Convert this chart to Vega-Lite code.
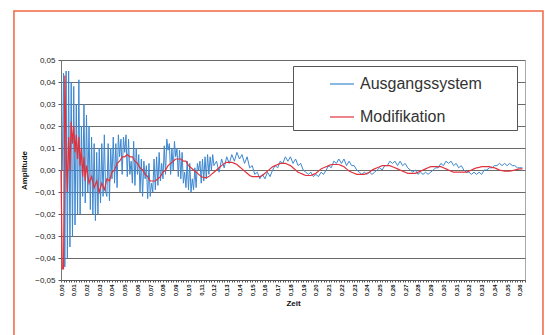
{
  "$schema": "https://vega.github.io/schema/vega-lite/v6.json",
  "autosize": "none",
  "width": 464,
  "height": 220,
  "padding": {"left": 61, "top": 60, "right": 23, "bottom": 55},
  "background": "white",
  "config": {
    "view": {"stroke": "#a8a8a8", "strokeWidth": 1},
    "font": "Liberation Sans"
  },
  "datasets": {
    "blue": [
      {"t":0,"a":0},{"t":0.001,"a":0},{"t":0.002,"a":0.044},{"t":0.003,"a":-0.044},{"t":0.004,"a":0.045},{"t":0.005,"a":-0.04},{"t":0.006,"a":0.045},{"t":0.007,"a":-0.035},{"t":0.008,"a":0.04},{"t":0.009,"a":-0.03},
      {"t":0.010,"a":0.038},{"t":0.011,"a":-0.025},{"t":0.012,"a":0.03},{"t":0.013,"a":-0.02},{"t":0.014,"a":0.041},{"t":0.015,"a":-0.02},{"t":0.016,"a":0.02},{"t":0.017,"a":-0.012},{"t":0.018,"a":0.03},{"t":0.019,"a":-0.015},
      {"t":0.020,"a":0.025},{"t":0.021,"a":-0.01},{"t":0.022,"a":0.02},{"t":0.023,"a":-0.018},{"t":0.024,"a":0.015},{"t":0.025,"a":-0.02},{"t":0.026,"a":0.012},{"t":0.027,"a":-0.023},{"t":0.028,"a":0.008},{"t":0.029,"a":-0.02},
      {"t":0.030,"a":0.01},{"t":0.031,"a":-0.015},{"t":0.032,"a":0.012},{"t":0.033,"a":-0.012},{"t":0.034,"a":0.016},{"t":0.035,"a":-0.01},{"t":0.036,"a":-0.012},{"t":0.037,"a":0.012},{"t":0.038,"a":-0.014},{"t":0.039,"a":0.010},
      {"t":0.040,"a":-0.004},{"t":0.041,"a":0.015},{"t":0.042,"a":-0.006},{"t":0.043,"a":0.012},{"t":0.044,"a":-0.008},{"t":0.045,"a":0.016},{"t":0.046,"a":0.006},{"t":0.047,"a":0.014},{"t":0.048,"a":-0.002},{"t":0.049,"a":0.015},
      {"t":0.050,"a":0.008},{"t":0.051,"a":0.016},{"t":0.052,"a":-0.003},{"t":0.053,"a":0.014},{"t":0.054,"a":-0.002},{"t":0.055,"a":0.004},{"t":0.056,"a":-0.006},{"t":0.057,"a":0.013},{"t":0.058,"a":-0.007},{"t":0.059,"a":0.010},
      {"t":0.060,"a":-0.002},{"t":0.061,"a":0.007},{"t":0.062,"a":-0.010},{"t":0.063,"a":0.005},{"t":0.064,"a":-0.012},{"t":0.065,"a":0.004},{"t":0.066,"a":-0.004},{"t":0.067,"a":0.002},{"t":0.068,"a":-0.013},{"t":0.069,"a":0.003},
      {"t":0.070,"a":-0.012},{"t":0.071,"a":-0.006},{"t":0.072,"a":-0.010},{"t":0.073,"a":0.005},{"t":0.074,"a":-0.009},{"t":0.075,"a":0.006},{"t":0.076,"a":-0.007},{"t":0.077,"a":0.008},{"t":0.078,"a":-0.005},{"t":0.079,"a":0.003},
      {"t":0.080,"a":-0.004},{"t":0.081,"a":0.011},{"t":0.082,"a":-0.002},{"t":0.083,"a":0.014},{"t":0.084,"a":0.009},{"t":0.085,"a":0.012},{"t":0.086,"a":-0.002},{"t":0.087,"a":0.010},{"t":0.088,"a":0.000},{"t":0.089,"a":0.013},
      {"t":0.090,"a":0.006},{"t":0.091,"a":0.010},{"t":0.092,"a":-0.003},{"t":0.093,"a":0.009},{"t":0.094,"a":-0.004},{"t":0.095,"a":0.008},{"t":0.096,"a":-0.006},{"t":0.097,"a":-0.001},{"t":0.098,"a":-0.008},{"t":0.099,"a":0.004},
      {"t":0.100,"a":-0.009},{"t":0.101,"a":0.003},{"t":0.102,"a":-0.010},{"t":0.103,"a":-0.004},{"t":0.104,"a":-0.009},{"t":0.105,"a":0.001},{"t":0.106,"a":-0.008},{"t":0.107,"a":0.003},{"t":0.108,"a":0.000},{"t":0.109,"a":0.004},
      {"t":0.110,"a":-0.006},{"t":0.111,"a":0.005},{"t":0.112,"a":-0.005},{"t":0.113,"a":0.006},{"t":0.114,"a":-0.004},{"t":0.115,"a":0.007},{"t":0.116,"a":-0.002},{"t":0.117,"a":0.006},{"t":0.118,"a":0.000},{"t":0.119,"a":0.007},
      {"t":0.120,"a":0.002},{"t":0.122,"a":0.004},{"t":0.124,"a":-0.001},{"t":0.126,"a":0.005},{"t":0.128,"a":0.001},{"t":0.130,"a":0.006},{"t":0.132,"a":0.003},{"t":0.134,"a":0.007},{"t":0.136,"a":0.004},{"t":0.138,"a":0.008},
      {"t":0.140,"a":0.005},{"t":0.142,"a":0.007},{"t":0.144,"a":0.003},{"t":0.146,"a":0.006},{"t":0.148,"a":0.001},{"t":0.150,"a":0.002},{"t":0.152,"a":-0.002},{"t":0.154,"a":-0.001},{"t":0.156,"a":-0.004},{"t":0.158,"a":-0.002},
      {"t":0.160,"a":-0.004},{"t":0.162,"a":-0.001},{"t":0.164,"a":-0.003},{"t":0.166,"a":0.000},{"t":0.168,"a":0.002},{"t":0.170,"a":0.001},{"t":0.172,"a":0.004},{"t":0.174,"a":0.003},{"t":0.176,"a":0.006},{"t":0.178,"a":0.004},
      {"t":0.180,"a":0.006},{"t":0.182,"a":0.003},{"t":0.184,"a":0.005},{"t":0.186,"a":0.002},{"t":0.188,"a":0.003},{"t":0.190,"a":0.000},{"t":0.192,"a":-0.001},{"t":0.194,"a":-0.002},{"t":0.196,"a":-0.001},{"t":0.198,"a":-0.003},
      {"t":0.200,"a":-0.002},{"t":0.202,"a":-0.003},{"t":0.204,"a":-0.001},{"t":0.206,"a":-0.002},{"t":0.208,"a":0.000},{"t":0.210,"a":0.002},{"t":0.212,"a":0.001},{"t":0.214,"a":0.004},{"t":0.216,"a":0.003},{"t":0.218,"a":0.005},
      {"t":0.220,"a":0.003},{"t":0.222,"a":0.005},{"t":0.224,"a":0.002},{"t":0.226,"a":0.004},{"t":0.228,"a":0.002},{"t":0.230,"a":0.002},{"t":0.232,"a":0.000},{"t":0.234,"a":-0.001},{"t":0.236,"a":-0.002},{"t":0.238,"a":-0.001},
      {"t":0.240,"a":-0.002},{"t":0.242,"a":-0.001},{"t":0.244,"a":-0.002},{"t":0.246,"a":-0.001},{"t":0.248,"a":0.000},{"t":0.250,"a":0.001},{"t":0.252,"a":0.000},{"t":0.254,"a":0.002},{"t":0.256,"a":0.002},{"t":0.258,"a":0.004},
      {"t":0.260,"a":0.003},{"t":0.262,"a":0.004},{"t":0.264,"a":0.002},{"t":0.266,"a":0.004},{"t":0.268,"a":0.002},{"t":0.270,"a":0.003},{"t":0.272,"a":0.001},{"t":0.274,"a":0.000},{"t":0.276,"a":-0.001},{"t":0.278,"a":0.000},
      {"t":0.280,"a":-0.002},{"t":0.282,"a":-0.001},{"t":0.284,"a":-0.002},{"t":0.286,"a":-0.001},{"t":0.288,"a":-0.002},{"t":0.290,"a":-0.001},{"t":0.292,"a":0.000},{"t":0.294,"a":0.001},{"t":0.296,"a":0.001},{"t":0.298,"a":0.003},
      {"t":0.300,"a":0.002},{"t":0.302,"a":0.004},{"t":0.304,"a":0.003},{"t":0.306,"a":0.004},{"t":0.308,"a":0.002},{"t":0.310,"a":0.003},{"t":0.312,"a":0.001},{"t":0.314,"a":0.002},{"t":0.316,"a":0.000},{"t":0.318,"a":-0.001},
      {"t":0.320,"a":-0.001},{"t":0.322,"a":-0.002},{"t":0.324,"a":-0.001},{"t":0.326,"a":-0.002},{"t":0.328,"a":-0.001},{"t":0.330,"a":-0.002},{"t":0.332,"a":0.000},{"t":0.334,"a":0.000},{"t":0.336,"a":0.001},{"t":0.338,"a":0.001},
      {"t":0.340,"a":0.002},{"t":0.342,"a":0.002},{"t":0.344,"a":0.003},{"t":0.346,"a":0.002},{"t":0.348,"a":0.003},{"t":0.350,"a":0.002},{"t":0.352,"a":0.003},{"t":0.354,"a":0.002},{"t":0.356,"a":0.002},{"t":0.358,"a":0.001},
      {"t":0.360,"a":0.001},{"t":0.362,"a":0.001}
    ],
    "red": [
      {"t":0,"a":0},{"t":0.001,"a":-0.045},{"t":0.002,"a":-0.045},{"t":0.003,"a":0.043},{"t":0.004,"a":0.010},{"t":0.005,"a":-0.010},{"t":0.006,"a":0.015},{"t":0.007,"a":0.000},{"t":0.008,"a":0.022},{"t":0.009,"a":0.012},
      {"t":0.010,"a":0.020},{"t":0.011,"a":0.008},{"t":0.012,"a":0.016},{"t":0.013,"a":0.005},{"t":0.014,"a":0.015},{"t":0.015,"a":0.002},{"t":0.016,"a":0.010},{"t":0.017,"a":-0.003},{"t":0.018,"a":0.006},{"t":0.019,"a":-0.005},
      {"t":0.020,"a":0.002},{"t":0.022,"a":-0.006},{"t":0.024,"a":-0.003},{"t":0.026,"a":-0.008},{"t":0.028,"a":-0.005},{"t":0.030,"a":-0.010},{"t":0.032,"a":-0.006},{"t":0.034,"a":-0.009},{"t":0.036,"a":-0.004},{"t":0.038,"a":-0.005},
      {"t":0.040,"a":-0.001},{"t":0.042,"a":0.000},{"t":0.044,"a":0.003},{"t":0.046,"a":0.004},{"t":0.048,"a":0.006},{"t":0.050,"a":0.006},{"t":0.052,"a":0.007},{"t":0.054,"a":0.006},{"t":0.056,"a":0.006},{"t":0.058,"a":0.004},
      {"t":0.060,"a":0.003},{"t":0.062,"a":0.001},{"t":0.064,"a":0.000},{"t":0.066,"a":-0.002},{"t":0.068,"a":-0.003},{"t":0.070,"a":-0.005},{"t":0.072,"a":-0.005},{"t":0.074,"a":-0.005},{"t":0.076,"a":-0.004},{"t":0.078,"a":-0.003},
      {"t":0.080,"a":-0.001},{"t":0.082,"a":0.000},{"t":0.084,"a":0.002},{"t":0.086,"a":0.003},{"t":0.088,"a":0.004},{"t":0.090,"a":0.005},{"t":0.092,"a":0.005},{"t":0.094,"a":0.005},{"t":0.096,"a":0.004},{"t":0.098,"a":0.004},
      {"t":0.100,"a":0.002},{"t":0.102,"a":0.001},{"t":0.104,"a":0.000},{"t":0.106,"a":-0.001},{"t":0.108,"a":-0.002},{"t":0.110,"a":-0.003},{"t":0.112,"a":-0.0035},{"t":0.114,"a":-0.0035},{"t":0.116,"a":-0.003},{"t":0.118,"a":-0.002},
      {"t":0.120,"a":-0.001},{"t":0.122,"a":0.000},{"t":0.124,"a":0.001},{"t":0.126,"a":0.002},{"t":0.128,"a":0.003},{"t":0.130,"a":0.0035},{"t":0.132,"a":0.0035},{"t":0.134,"a":0.0035},{"t":0.136,"a":0.003},{"t":0.138,"a":0.0025},
      {"t":0.140,"a":0.0015},{"t":0.142,"a":0.0005},{"t":0.144,"a":-0.0005},{"t":0.146,"a":-0.0015},{"t":0.148,"a":-0.0025},{"t":0.150,"a":-0.003},{"t":0.152,"a":-0.003},{"t":0.154,"a":-0.003},{"t":0.156,"a":-0.003},{"t":0.158,"a":-0.0025},
      {"t":0.160,"a":-0.0015},{"t":0.162,"a":-0.0005},{"t":0.164,"a":0.0005},{"t":0.166,"a":0.0015},{"t":0.168,"a":0.002},{"t":0.170,"a":0.0025},{"t":0.172,"a":0.003},{"t":0.174,"a":0.003},{"t":0.176,"a":0.003},{"t":0.178,"a":0.0025},
      {"t":0.180,"a":0.002},{"t":0.182,"a":0.001},{"t":0.184,"a":0.000},{"t":0.186,"a":-0.001},{"t":0.188,"a":-0.0015},{"t":0.190,"a":-0.002},{"t":0.192,"a":-0.0025},{"t":0.194,"a":-0.0025},{"t":0.196,"a":-0.0025},{"t":0.198,"a":-0.002},
      {"t":0.200,"a":-0.0015},{"t":0.202,"a":-0.0005},{"t":0.204,"a":0.0005},{"t":0.206,"a":0.001},{"t":0.208,"a":0.0015},{"t":0.210,"a":0.002},{"t":0.212,"a":0.0025},{"t":0.214,"a":0.0025},{"t":0.216,"a":0.0025},{"t":0.218,"a":0.0025},
      {"t":0.220,"a":0.002},{"t":0.222,"a":0.0015},{"t":0.224,"a":0.0005},{"t":0.226,"a":-0.0005},{"t":0.228,"a":-0.001},{"t":0.230,"a":-0.0015},{"t":0.232,"a":-0.002},{"t":0.234,"a":-0.002},{"t":0.236,"a":-0.002},{"t":0.238,"a":-0.002},
      {"t":0.240,"a":-0.0015},{"t":0.242,"a":-0.001},{"t":0.244,"a":0.000},{"t":0.246,"a":0.0005},{"t":0.248,"a":0.001},{"t":0.250,"a":0.0015},{"t":0.252,"a":0.002},{"t":0.254,"a":0.002},{"t":0.256,"a":0.002},{"t":0.258,"a":0.002},
      {"t":0.260,"a":0.0015},{"t":0.262,"a":0.001},{"t":0.264,"a":0.0005},{"t":0.266,"a":0.000},{"t":0.268,"a":-0.0005},{"t":0.270,"a":-0.001},{"t":0.272,"a":-0.0015},{"t":0.274,"a":-0.0015},{"t":0.276,"a":-0.0015},{"t":0.278,"a":-0.0015},
      {"t":0.280,"a":-0.001},{"t":0.282,"a":-0.0005},{"t":0.284,"a":0.000},{"t":0.286,"a":0.0005},{"t":0.288,"a":0.001},{"t":0.290,"a":0.0015},{"t":0.292,"a":0.0015},{"t":0.294,"a":0.0015},{"t":0.296,"a":0.0015},{"t":0.298,"a":0.0015},
      {"t":0.300,"a":0.001},{"t":0.302,"a":0.0005},{"t":0.304,"a":0.000},{"t":0.306,"a":-0.0005},{"t":0.308,"a":-0.001},{"t":0.310,"a":-0.001},{"t":0.312,"a":-0.001},{"t":0.314,"a":-0.001},{"t":0.316,"a":-0.001},{"t":0.318,"a":-0.001},
      {"t":0.320,"a":-0.0005},{"t":0.322,"a":0.000},{"t":0.324,"a":0.0005},{"t":0.326,"a":0.001},{"t":0.328,"a":0.0012},{"t":0.330,"a":0.0015},{"t":0.332,"a":0.0015},{"t":0.334,"a":0.0015},{"t":0.336,"a":0.0015},{"t":0.338,"a":0.0012},
      {"t":0.340,"a":0.001},{"t":0.342,"a":0.0005},{"t":0.344,"a":0.000},{"t":0.346,"a":-0.0003},{"t":0.348,"a":-0.0005},{"t":0.350,"a":-0.0005},{"t":0.352,"a":-0.0005},{"t":0.354,"a":-0.0003},{"t":0.356,"a":0.000},{"t":0.358,"a":0.0003},
      {"t":0.360,"a":0.0005},{"t":0.362,"a":0.0005}
    ]
  },
  "encoding": {
    "x": {
      "type": "quantitative",
      "scale": {"domain": [0, 0.364], "nice": false, "zero": false},
      "axis": {
        "title": "Zeit",
        "titleFont": "Liberation Sans",
        "titleFontSize": 8,
        "titleFontWeight": "bold",
        "titleColor": "#111",
        "titlePadding": 4,
        "tickCount": 200,
        "tickSize": 2,
        "tickColor": "#555",
        "domainColor": "#555",
        "grid": false,
        "labelAngle": 270,
        "labelFontSize": 6,
        "labelFontWeight": "bold",
        "labelColor": "#111",
        "labelPadding": 2,
        "labelOverlap": false,
        "labelBound": false,
        "labelFlush": false,
        "labelExpr": "round(datum.value*1000) % 10 == 0 ? replace(format(datum.value, '.2f'), '.', ',') : ''"
      }
    },
    "y": {
      "type": "quantitative",
      "scale": {"domain": [-0.05, 0.05], "nice": false, "zero": false},
      "axis": {
        "title": "Amplitude",
        "titleFont": "Liberation Sans",
        "titleFontSize": 8,
        "titleFontWeight": "bold",
        "titleColor": "#111",
        "titlePadding": 6,
        "values": [-0.05, -0.04, -0.03, -0.02, -0.01, 0, 0.01, 0.02, 0.03, 0.04, 0.05],
        "labelExpr": "replace(format(datum.value, '.2f'), '.', ',')",
        "labelFontSize": 8,
        "labelColor": "#222",
        "labelPadding": 3,
        "tickSize": 3,
        "tickColor": "#555",
        "domainColor": "#777",
        "grid": true,
        "gridColor": "#6a6a6a",
        "gridWidth": 1
      }
    }
  },
  "layer": [
    {
      "data": {"values": [{}]},
      "mark": {"type": "rect", "fill": "transparent", "stroke": "#f26540", "strokeWidth": 1.5, "clip": false},
      "encoding": {
        "x": {"datum": -0.0369, "type": "quantitative"},
        "x2": {"datum": 0.3781},
        "y": {"datum": 0.0723, "type": "quantitative"},
        "y2": {"datum": -0.085}
      }
    },
    {
      "data": {"name": "blue"},
      "mark": {"type": "line", "strokeWidth": 1, "interpolate": "linear"},
      "encoding": {
        "x": {"field": "t", "type": "quantitative"},
        "y": {"field": "a", "type": "quantitative"},
        "color": {"datum": "Ausgangssystem"}
      }
    },
    {
      "data": {"name": "red"},
      "mark": {"type": "line", "strokeWidth": 1.2, "interpolate": "linear"},
      "encoding": {
        "x": {"field": "t", "type": "quantitative"},
        "y": {"field": "a", "type": "quantitative"},
        "color": {
          "datum": "Modifikation",
          "scale": {"domain": ["Ausgangssystem", "Modifikation"], "range": ["#3d87d0", "#e0323c"]},
          "legend": {
            "orient": "none",
            "legendX": 232,
            "legendY": 6,
            "title": "\u00a0",
            "titleOrient": "right",
            "titlePadding": 30,
            "titleFontSize": 1,
            "fillColor": "white",
            "strokeColor": "#555",
            "padding": 5,
            "symbolType": "stroke",
            "symbolSize": 576,
            "symbolStrokeWidth": 1.2,
            "symbolOffset": 31,
            "labelOffset": 5,
            "labelFont": "Liberation Sans",
            "labelFontSize": 16,
            "labelColor": "#333",
            "labelLimit": 300,
            "rowPadding": 12
          }
        }
      }
    }
  ]
}
